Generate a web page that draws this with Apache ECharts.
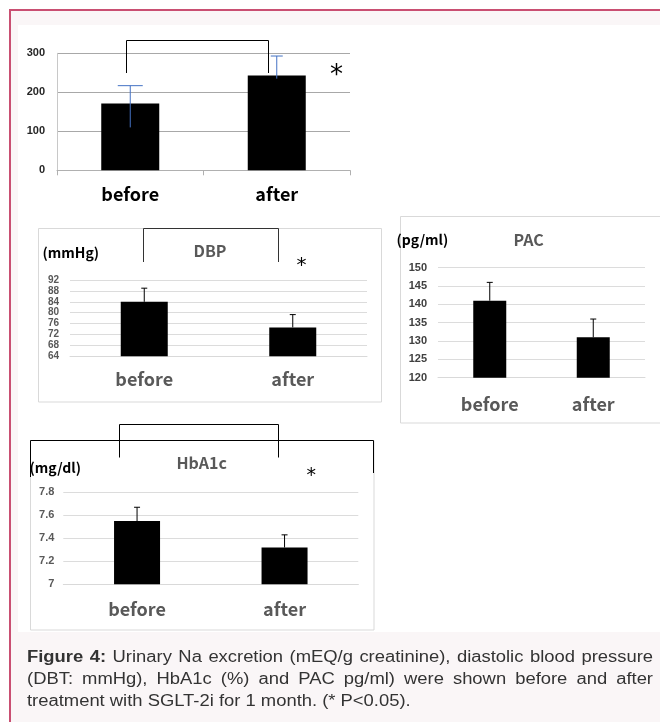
<!DOCTYPE html>
<html><head><meta charset="utf-8">
<script src="https://cdn.jsdelivr.net/npm/echarts@6/dist/echarts.min.js"></script>
<style>html,body{margin:0;padding:0;background:#fff}#c{width:660px;height:722px}</style>
</head><body><div id="c"></div>
<script>
// ---------- data ----------
const categories = ['before', 'after'];

const naTicks = [0, 100, 200, 300];
const naMean = [171, 243];
const naLow = [110, 235];
const naHigh = [217, 293];

const dbpTicks = [64, 68, 72, 76, 80, 84, 88, 92];
const dbpMean = [84, 74.6];
const dbpHigh = [89, 79.3];

const pacTicks = [120, 125, 130, 135, 140, 145, 150];
const pacMean = [141, 131];
const pacHigh = [146, 136];

const hbTicks = [7, 7.2, 7.4, 7.6, 7.8];
const hbMean = [7.55, 7.32];
const hbHigh = [7.67, 7.43];

const captionLines = [
  [{t: 'Figure 4:', b: true}, {t: 'Urinary Na excretion (mEQ/g creatinine), diastolic blood pressure'}],
  [{t: '(DBT: mmHg), HbA1c (%) and PAC pg/ml) were shown before and after'}],
  [{t: 'treatment with SGLT-2i for 1 month. (* P<0.05).'}]
];

// ---------- helpers ----------
const JP = '"Noto Sans CJK JP", "Noto Sans", sans-serif';
const AR = '"Liberation Sans", Arial, sans-serif';

function errSeries(xi, lows, highs, color, caps, z) {
  return {
    type: 'custom', xAxisIndex: xi, yAxisIndex: xi, z: z,
    data: lows.map((l, i) => [i, l, highs[i]]),
    renderItem(params, api) {
      const lo = api.coord([api.value(0), api.value(1)]);
      const hi = api.coord([api.value(0), api.value(2)]);
      const cw = caps[params.dataIndex] / 2;
      return {
        type: 'group', children: [
          {type: 'line', shape: {x1: lo[0], y1: lo[1], x2: hi[0], y2: hi[1]}, style: {stroke: color, lineWidth: 1}},
          {type: 'line', shape: {x1: hi[0] - cw, y1: hi[1], x2: hi[0] + cw, y2: hi[1]}, style: {stroke: color, lineWidth: 1}}
        ]
      };
    }
  };
}

function catAxis(gi, color, margin, opts) {
  return Object.assign({
    type: 'category', gridIndex: gi, data: categories,
    axisLine: {show: true, lineStyle: {color: '#d9d9d9'}},
    axisTick: {show: false},
    axisLabel: {color: color, fontFamily: JP, fontWeight: 'bold', fontSize: 18, lineHeight: 18, margin: margin}
  }, opts || {});
}
function valAxis(gi, ticks, color, size, margin, grid, opts) {
  return Object.assign({
    type: 'value', gridIndex: gi,
    min: ticks[0], max: ticks[ticks.length - 1], interval: ticks[1] - ticks[0],
    axisLine: {show: false}, axisTick: {show: false},
    splitLine: {show: true, lineStyle: {color: grid}},
    axisLabel: {color: color, fontFamily: AR, fontWeight: 'bold', fontSize: size, margin: margin,
      formatter: v => { const i = ticks.findIndex(t => Math.abs(t - v) < 1e-9); return i >= 0 ? String(ticks[i]) : ''; }}
  }, opts || {});
}

// caption words, horizontally stretched and justified
const SX = 1.15;
const mctx = document.createElement('canvas').getContext('2d');
function measure(t, bold) { mctx.font = (bold ? 'bold ' : '') + '16px ' + AR; return mctx.measureText(t).width * SX; }
const capLeft = 27, capRight = 653, capBase = [657.5, 679.5, 701.5];
const captionGraphics = [];
captionLines.forEach((segs, li) => {
  const words = [];
  segs.forEach(s => s.t.split(' ').forEach(w => words.push({t: w, b: !!s.b})));
  const widths = words.map(w => measure(w.t, w.b));
  const total = widths.reduce((a, b) => a + b, 0);
  const justify = li < captionLines.length - 1;
  const gap = justify ? (capRight - capLeft - total) / (words.length - 1) : measure(' ', false);
  let x = capLeft;
  words.forEach((w, i) => {
    captionGraphics.push({type: 'text', z: 10, x: x, y: capBase[li], scaleX: SX,
      style: {text: w.t, x: 0, y: 0, fill: '#333333',
      font: (w.b ? 'bold ' : '') + '16px ' + AR, align: 'left', textAlign: 'left', verticalAlign: 'middle', textVerticalAlign: 'middle'}});
    x += widths[i] + gap;
  });
});

function txt(t, x, y, font, fill, align) {
  return {type: 'text', z: 10, style: {text: t, x: x, y: y, font: font, fill: fill,
    align: align || 'center', textAlign: align || 'center', verticalAlign: 'middle', textVerticalAlign: 'middle'}};
}
function pl(points, color) {
  return {type: 'polyline', z: 6, shape: {points: points}, style: {stroke: color, lineWidth: 1, fill: null}};
}
function box(x, y, w, h, color) {
  return {type: 'rect', z: 1, shape: {x: x, y: y, width: w, height: h}, style: {stroke: color, lineWidth: 1, fill: null}};
}

const chart = echarts.init(document.getElementById('c'), null, {renderer: 'canvas'});
chart.setOption({
  animation: false,
  backgroundColor: '#ffffff',
  grid: [
    {left: 57, top: 53.3, width: 293, height: 117},
    {left: 70, top: 280, width: 297, height: 76.3},
    {left: 438, top: 267.7, width: 207, height: 110},
    {left: 63.3, top: 492.3, width: 295, height: 92}
  ],
  xAxis: [
    catAxis(0, '#000000', 15, {
      axisLine: {show: true, lineStyle: {color: '#b0b0b0'}},
      axisTick: {show: true, length: 5, interval: 0, lineStyle: {color: '#b0b0b0'}}
    }),
    catAxis(1, '#595959', 14),
    catAxis(2, '#595959', 17),
    catAxis(3, '#595959', 16)
  ],
  yAxis: [
    valAxis(0, naTicks, '#262626', 11, 12, '#a8a8a8', {axisLine: {show: true, lineStyle: {color: '#c8c8c8'}}}),
    valAxis(1, dbpTicks, '#595959', 10, 11, '#dcdcdc'),
    valAxis(2, pacTicks, '#404040', 11, 11, '#dcdcdc'),
    valAxis(3, hbTicks, '#595959', 11, 9, '#dcdcdc')
  ],
  series: [
    {type: 'bar', xAxisIndex: 0, yAxisIndex: 0, data: naMean, barWidth: 58, itemStyle: {color: '#000'}, z: 3},
    errSeries(0, naLow, naHigh, '#4472c4', [25, 12], 5),
    {type: 'bar', xAxisIndex: 1, yAxisIndex: 1, data: dbpMean, barWidth: 47, itemStyle: {color: '#000'}, z: 3},
    errSeries(1, dbpMean, dbpHigh, '#000000', [6, 6], 2),
    {type: 'bar', xAxisIndex: 2, yAxisIndex: 2, data: pacMean, barWidth: 33, itemStyle: {color: '#000'}, z: 3},
    errSeries(2, pacMean, pacHigh, '#000000', [6, 6], 2),
    {type: 'bar', xAxisIndex: 3, yAxisIndex: 3, data: hbMean, barWidth: 46, itemStyle: {color: '#000'}, z: 3},
    errSeries(3, hbMean, hbHigh, '#000000', [6, 6], 2)
  ],
  graphic: [
    // frame and backgrounds
    {type: 'rect', z: -20, silent: true, shape: {x: 10, y: 10, width: 680, height: 740}, style: {fill: '#faf6f7', stroke: '#c94f72', lineWidth: 2}},
    {type: 'rect', z: -19, silent: true, shape: {x: 18, y: 25, width: 650, height: 607}, style: {fill: '#ffffff'}},
    // panel boxes
    box(38.5, 228.5, 343, 173.5, '#d9d9d9'),
    box(400.5, 216.5, 280, 206.5, '#d9d9d9'),
    box(30.5, 440.5, 343.5, 189.5, '#d9d9d9'),
    pl([[30.5, 477], [30.5, 440.5], [373.5, 440.5], [373.5, 473]], '#000000'),
    // brackets
    pl([[126.5, 73], [126.5, 40.5], [268.5, 40.5], [268.5, 73]], '#000000'),
    pl([[143.5, 262], [143.5, 228.5], [278.5, 228.5], [278.5, 262]], '#333333'),
    pl([[119.5, 457.5], [119.5, 424.5], [278.5, 424.5], [278.5, 457.5]], '#000000'),
    // titles, units, stars
    txt('DBP', 210, 250.7, 'bold 16px ' + JP, '#595959'),
    txt('PAC', 528.7, 240, 'bold 16px ' + JP, '#595959'),
    txt('HbA1c', 201.7, 463.3, 'bold 16px ' + JP, '#595959'),
    txt('(mmHg)', 42.5, 253, 'bold 14px ' + JP, '#000000', 'left'),
    txt('(pg/ml)', 396.5, 240, 'bold 14px ' + JP, '#000000', 'left'),
    txt('(mg/dl)', 29.5, 467.7, 'bold 14px ' + JP, '#000000', 'left'),
    txt('*', 336.5, 76, '26px "DejaVu Sans"', '#000000'),
    txt('*', 301.5, 266, '20px "DejaVu Sans"', '#000000'),
    txt('*', 311.3, 476.5, '19px "DejaVu Sans"', '#000000')
  ].concat(captionGraphics)
});
</script></body></html>
